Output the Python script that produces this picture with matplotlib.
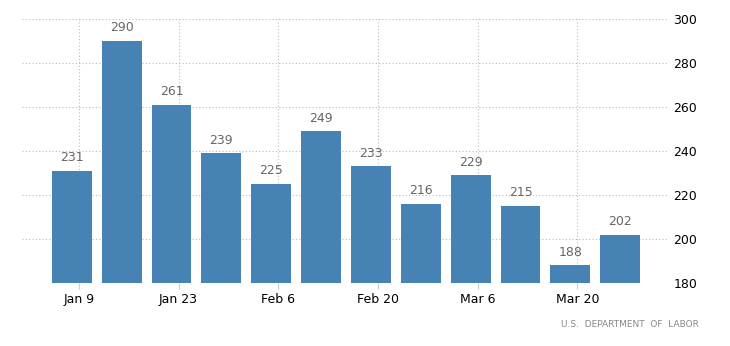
import matplotlib.pyplot as plt

# weekly values, bars placed by day offset from first week
days = [0, 7, 14, 21, 28, 35, 42, 49, 56, 63, 70, 77]
claims = [231, 290, 261, 239, 225, 249, 233, 216, 229, 215, 188, 202]
tick_days = [1, 15, 29, 43, 57, 71]
tick_labels = ['Jan 9', 'Jan 23', 'Feb 6', 'Feb 20', 'Mar 6', 'Mar 20']
y_ticks = [180, 200, 220, 240, 260, 280, 300]

fig = plt.figure(figsize=(7.3, 3.46), dpi=100)
ax = fig.add_axes([0.030, 0.182, 0.885, 0.763])

ax.bar(days, claims, width=5.6, color='#4682b4', zorder=2)
for d, v in zip(days, claims):
    ax.text(d, v + 3, str(v), ha='center', va='bottom', fontsize=9, color='#666666')

ax.set_xlim(-7.0, 83.7)
ax.set_ylim(180, 300)
ax.set_xticks(tick_days)
ax.set_xticklabels(tick_labels, fontsize=9)
ax.set_yticks(y_ticks)
ax.yaxis.tick_right()
ax.tick_params(axis='y', length=0, pad=4, labelsize=9)
ax.tick_params(axis='x', length=4, color='#cccccc', pad=3)
ax.grid(True, linestyle=(0, (1, 2)), color='#bbbbbb', linewidth=0.8, zorder=0)
for s in ax.spines.values():
    s.set_visible(False)

fig.text(0.958, 0.062, 'U.S.  DEPARTMENT  OF  LABOR', ha='right', va='center',
         fontsize=6.5, color='#888888')

fig.savefig('out.png', dpi=100)
